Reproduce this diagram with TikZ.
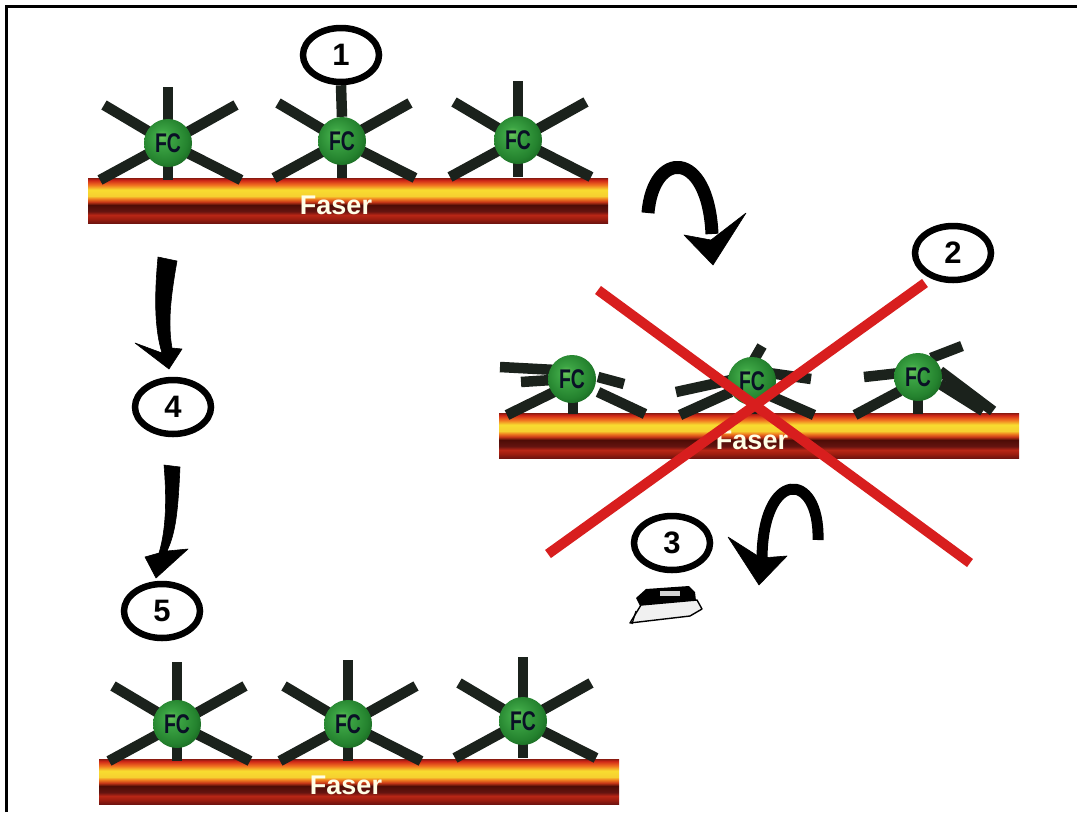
\documentclass[tikz,border=0pt]{standalone}
\usepackage{fontspec}
\setmainfont{Liberation Sans}
\usetikzlibrary{shapes.geometric}

% fibre stripes, top (fb1) to bottom (fb12)
\definecolor{fb1}{HTML}{8A1A10}
\definecolor{fb2}{HTML}{D02818}
\definecolor{fb3}{HTML}{F07020}
\definecolor{fb4}{HTML}{F8DC30}
\definecolor{fb5}{HTML}{F6D030}
\definecolor{fb6}{HTML}{F08020}
\definecolor{fb7}{HTML}{C83818}
\definecolor{fb8}{HTML}{4E0C06}
\definecolor{fb9}{HTML}{641410}
\definecolor{fb10}{HTML}{B82616}
\definecolor{fb11}{HTML}{A01E10}
\definecolor{fb12}{HTML}{701410}
% green FC spheres
\definecolor{bl1}{HTML}{6CC85C}
\definecolor{bl2}{HTML}{3CA444}
\definecolor{bl3}{HTML}{24822E}
\definecolor{bl4}{HTML}{145A1C}
\definecolor{spokecol}{HTML}{1B221C}
\definecolor{xred}{HTML}{D81E1E}
\definecolor{fcink}{HTML}{0A1026}

\pgfdeclareverticalshading{fiber}{100bp}{%
  color(0bp)=(fb12); color(25bp)=(fb12); color(30bp)=(fb11);
  color(34bp)=(fb10); color(38bp)=(fb9); color(45bp)=(fb8);
  color(48.5bp)=(fb7); color(52bp)=(fb6); color(55bp)=(fb5);
  color(62bp)=(fb4); color(67.5bp)=(fb3); color(72.5bp)=(fb2);
  color(75bp)=(fb1); color(100bp)=(fb1)}

\pgfdeclareradialshading{fcball}{\pgfpoint{-7bp}{7bp}}{%
  color(0bp)=(bl1); color(8bp)=(bl2); color(24bp)=(bl3);
  color(34bp)=(bl4); color(50bp)=(bl4)}

\newcommand\fclabel{\fontsize{27}{27}\selectfont\bfseries}
\newcommand\faserfont{\fontsize{27}{27}\selectfont\bfseries}
\newcommand\numfont{\fontsize{31}{31}\selectfont\bfseries}

% one upright star of spokes plus its sphere
\newcommand\fcstar[4]{% name, x, y, length of the upper spoke
  \draw[spoke] (#2,#3) -- ++(0,-#4);
  \draw[spoke] (#2,#3) -- ++(-64,-38);
  \draw[spoke] (#2,#3) -- ++(68,-38);
  \draw[spoke] (#2,#3) -- ++(-68,37);
  \draw[spoke] (#2,#3) -- ++(73,37);
  \draw[spoke] (#2,#3) -- ++(0,37);
  \node[ball] (#1) at (#2,#3) {\scalebox{0.72}[1]{FC}};}

\tikzset{
  spoke/.style={draw=spokecol, line width=10.5pt, line cap=butt},
  ball/.style={circle, minimum size=48pt, inner sep=0pt, shade, shading=fcball,
    font=\fclabel, text=fcink},
  fiberbar/.style={rectangle, shade, shading=fiber, minimum width=520pt,
    minimum height=45pt, inner sep=0pt},
  fasertext/.style={font=\faserfont, text=white!90!yellow},
  numring/.style={ellipse, draw=black, line width=6.5pt, minimum width=76pt,
    minimum height=54pt, inner sep=0pt, font=\numfont},
  crossline/.style={draw=xred, line width=10pt, line cap=butt},
  flowarrow/.style={fill=black, draw=black, line width=0.6pt, line join=round},
  arcshaft/.style={draw=black, line width=13pt, line cap=butt},
}

\begin{document}
\begin{tikzpicture}[x=1pt,y=-1pt]
\useasboundingbox (0,0) rectangle (1077,812);
\fill[white] (0,0) rectangle (1077,812);

% frame lines along the top and the left
\draw[line width=3pt] (6.5,812) -- (6.5,6.5) -- (1077,6.5);

% ---------- top: intact fibre ----------
\node[fiberbar] (bar1) at (348,200.5) {};
\node[fasertext] (faser1) at (336,205) {Faser};
\node[numring] (n1) at (341,55) {1};
\fcstar{a1}{168}{143}{56}
\fcstar{a2}{342}{141}{0}
\fcstar{a3}{518}{140}{59}
\draw[spoke] (n1.south) -- (a2.north);

% ---------- middle: flattened fibre ----------
\node[fiberbar] (bar2) at (759,435.5) {};
\node[fasertext] (faser2) at (752,440) {Faser};
% sphere A
\draw[spoke] (500,367) -- (556,370);
\draw[spoke] (521,382) -- (552,380);
\draw[spoke] (598,377) -- (624,384);
\draw[spoke] (507,415) -- (556,391);
\draw[spoke] (598,392) -- (645,414);
\draw[spoke] (573,398) -- (573,414);
% sphere B
\draw[spoke] (751,365) -- (762,346);
\draw[spoke] (676,392) -- (731,380);
\draw[spoke] (769,373) -- (811,379);
\draw[spoke] (680,415) -- (731,392);
\draw[spoke] (766,394) -- (814,415);
\draw[spoke] (752,398) -- (752,414);
% sphere C
\draw[spoke] (864,377) -- (900,373);
\draw[spoke] (931,358) -- (962,346);
\draw[spoke] (940,371) -- (993,411);
\draw[spoke] (940,384) -- (983,411);
\draw[spoke] (855,415) -- (900,391);
\draw[spoke] (918,398) -- (918,414);
\node[ball] (m1) at (572,379) {\scalebox{0.72}[1]{FC}};
\node[ball] (m2) at (752,381) {\scalebox{0.72}[1]{FC}};
\node[ball] (m3) at (918,377) {\scalebox{0.72}[1]{FC}};

% red cross over the flattened fibre
\coordinate (x1a) at (598,290);
\coordinate (x1b) at (970,563);
\coordinate (x2a) at (925,283);
\coordinate (x2b) at (548,554);
\draw[crossline] (x1a) -- (x1b);
\draw[crossline] (x2a) -- (x2b);
\node[numring] (n2) at (953,253) {2};

% ---------- bottom: restored fibre ----------
\node[fiberbar] (bar3) at (359,781.5) {};
\node[fasertext] (faser3) at (346,785) {Faser};
\fcstar{c1}{177}{724}{62}
\fcstar{c2}{348}{724}{64}
\fcstar{c3}{523}{721}{64}

% ---------- step markers and arrows ----------
\node[numring] (n3) at (672,543) {3};
\node[numring] (n4) at (173,407) {4};
\node[numring] (n5) at (162,611) {5};

% arc from the top fibre to the flattened one
\coordinate (arcAs) at (648,213);
\coordinate (arcAe) at (712,234);
\draw[arcshaft] (arcAs) .. controls (653,150) and (708,148) .. (arcAe);
\fill[flowarrow] (684,235) -- (711,240) -- (746,213) -- (713,265) -- cycle;

% arc next to step 3
\coordinate (arcBs) at (818,540);
\coordinate (arcBe) at (762,560);
\draw[arcshaft, line width=11pt] (arcBs) .. controls (820,470) and (762,468) .. (arcBe);
\fill[flowarrow] (728,537) -- (761,558) -- (787,556) -- (759,585) -- cycle;

% down arrow to step 4
\fill[flowarrow] (158,257) -- (177,261)
  .. controls (170,300) and (168,325) .. (172,348)
  -- (182,349) -- (169,369) -- (135,343) -- (162,353)
  .. controls (155,330) and (154,300) .. (158,257) -- cycle;

% down arrow to step 5
\fill[flowarrow] (164,465) -- (180,467)
  .. controls (178,510) and (176,532) .. (167,551)
  -- (188,549) -- (156,578) -- (145,557) -- (159,553)
  .. controls (166,530) and (167,500) .. (164,465) -- cycle;

% iron
\fill[black] (636,598) -- (646,589) -- (689,586) -- (695,592) -- (696,601) -- (640,606) -- cycle;
\fill[gray!35] (660,591) rectangle (680,596);
\filldraw[fill=gray!12, draw=black, line width=1.4pt, line join=round]
  (630,623) -- (641,605) -- (697,600) -- (702,609) -- (690,616) -- cycle;
\draw[black, line width=1.2pt] (636,611) -- (632,624);

\end{tikzpicture}
\end{document}
